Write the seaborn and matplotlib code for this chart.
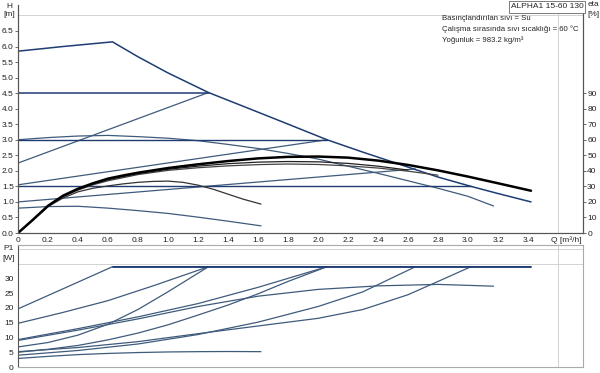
import matplotlib
matplotlib.use("Agg")
import matplotlib.pyplot as plt
import seaborn as sns
import numpy as np
import pandas as pd

# ---------------- data ----------------
# Head curves H [m] vs Q [m3/h]
q_max = [0, 0.3, 0.63, 0.8, 1.0, 1.27, 1.5, 1.75, 2.06, 2.3, 2.6, 2.8, 3.02, 3.2, 3.42]
h_max = [5.85, 6.0, 6.15, 5.67, 5.15, 4.52, 4.08, 3.6, 3.0, 2.6, 2.12, 1.8, 1.5, 1.27, 1.0]

q_sp2 = [0, 0.2, 0.4, 0.6, 0.8, 1.0, 1.2, 1.4, 1.6, 1.8, 2.0, 2.2, 2.4, 2.6, 2.8, 3.0, 3.17]
h_sp2 = [3.0, 3.07, 3.12, 3.14, 3.1, 3.05, 2.97, 2.85, 2.72, 2.56, 2.38, 2.15, 1.92, 1.68, 1.44, 1.18, 0.87]

q_sp1 = [0, 0.2, 0.4, 0.6, 0.8, 1.0, 1.2, 1.4, 1.62]
h_sp1 = [0.8, 0.85, 0.86, 0.8, 0.72, 0.63, 0.51, 0.38, 0.23]

q_cp3 = [0, 1.27]; h_cp3 = [4.5, 4.5]
q_cp2 = [0, 2.06]; h_cp2 = [3.0, 3.0]
q_cp1 = [0, 3.02]; h_cp1 = [1.5, 1.5]

q_pp3 = [0, 1.27]; h_pp3 = [2.25, 4.52]
q_pp2 = [0, 2.06]; h_pp2 = [1.55, 3.0]
q_pp1 = [0, 2.65]; h_pp1 = [1.0, 2.06]

# Efficiency curves eta [%]
q_eta_max = [0, 0.1, 0.2, 0.3, 0.4, 0.5, 0.6, 0.7, 0.8, 1.0, 1.2, 1.4, 1.6, 1.8, 2.0,
             2.2, 2.4, 2.6, 2.8, 3.0, 3.2, 3.42]
eta_max = [0, 8.6, 17.5, 24, 28.5, 32, 35, 37, 38.8, 41.8, 44.2, 46.3, 48, 49, 49.2,
           48.5, 46.6, 43.8, 40.3, 36.3, 32, 27.2]

q_eta_b = [0, 0.1, 0.2, 0.3, 0.4, 0.5, 0.6, 0.8, 1.0, 1.2, 1.4, 1.6, 1.8, 2.0, 2.2, 2.4, 2.6, 2.8]
eta_b = [0, 8.4, 17, 23.3, 27.6, 31, 33.6, 37.6, 40.3, 42, 43.2, 44, 44.4, 44.1, 43.2, 41.8, 39.8, 37.2]

q_eta_c = [0, 0.1, 0.2, 0.3, 0.4, 0.5, 0.6, 0.8, 1.0, 1.2, 1.4, 1.6, 1.8, 2.0, 2.2, 2.4, 2.6]
eta_c = [0, 8.5, 17.3, 23.7, 28, 31.5, 34.3, 38.2, 41, 43, 44.6, 45.6, 46, 45.8, 44.8, 43, 40.5]

q_eta_sp1 = [0, 0.1, 0.2, 0.3, 0.4, 0.5, 0.6, 0.7, 0.8, 0.9, 1.0, 1.1, 1.2, 1.3, 1.4, 1.5, 1.62]
eta_sp1 = [0, 8.4, 17, 22.5, 26.5, 28.8, 30.3, 31.6, 32.6, 33.2, 33.4, 32.6, 30.8, 28.2, 25, 21.8, 18.6]

# Power curves P1 [W]
q_p_max = [0, 0.3, 0.63, 3.42]
p_max = [19.7, 26.5, 34, 34]
q_p_cp3 = [0, 0.3, 0.6, 0.9, 1.27]
p_cp3 = [14.8, 18.5, 22.5, 27.5, 34]
q_p_pp3 = [0, 0.2, 0.4, 0.6, 0.8, 1.0, 1.27]
p_pp3 = [6.8, 8.3, 10.8, 14.5, 19.5, 25.5, 34]
q_p_cp2 = [0, 0.4, 0.8, 1.2, 1.6, 2.06]
p_cp2 = [9.3, 13, 17, 21.5, 27, 34]
q_p_sp2 = [0, 0.4, 0.8, 1.2, 1.6, 2.0, 2.4, 2.8, 3.17]
p_sp2 = [9.0, 12.5, 16.3, 20.5, 24, 26.3, 27.5, 28, 27.4]
q_p_pp2 = [0, 0.2, 0.4, 0.6, 0.8, 1.0, 1.2, 1.4, 1.6, 1.8, 2.06]
p_pp2 = [5.0, 6.0, 7.3, 9.2, 11.5, 14.3, 17.6, 21, 24.8, 29, 34]
q_p_pp1 = [0, 0.4, 0.8, 1.2, 1.6, 2.0, 2.3, 2.65]
p_pp1 = [4.0, 5.6, 7.8, 11.0, 15.2, 20.5, 25.5, 34]
q_p_cp1 = [0, 0.4, 0.8, 1.2, 1.6, 2.0, 2.3, 2.6, 2.8, 3.02]
p_cp1 = [5.2, 6.6, 8.6, 11.3, 13.9, 16.5, 19.5, 24.5, 29, 34]
q_p_sp1 = [0, 0.2, 0.4, 0.6, 0.8, 1.0, 1.2, 1.4, 1.62]
p_sp1 = [2.9, 3.6, 4.2, 4.6, 4.9, 5.1, 5.2, 5.25, 5.2]

h_ticks = [0.0, 0.5, 1.0, 1.5, 2.0, 2.5, 3.0, 3.5, 4.0, 4.5, 5.0, 5.5, 6.0, 6.5]
eta_ticks = [0, 10, 20, 30, 40, 50, 60, 70, 80, 90]
p_ticks = [0, 5, 10, 15, 20, 25, 30]
q_ticks = [0, 0.2, 0.4, 0.6, 0.8, 1.0, 1.2, 1.4, 1.6, 1.8, 2.0, 2.2, 2.4, 2.6, 2.8, 3.0, 3.2, 3.4]

info_lines = ["Basınçlandırılan sıvı = Su",
              "Çalışma sırasında sıvı sıcaklığı = 60 °C",
              "Yoğunluk = 983.2 kg/m³"]
title_box = "ALPHA1 15-60 130"

# ---------------- styling ----------------
sns.set_theme(style="white")
plt.rcParams['font.family'] = ['Liberation Sans', 'DejaVu Sans']
FS = 6
NAVY = '#1f3c73'
SLATE = '#3f5b7c'
GRID = '#d2d2d2'
SPINE = '#555555'

fig = plt.figure(figsize=(6.0, 3.73), dpi=100)
W, Hpx = 600.0, 373.0
ax = fig.add_axes([18 / W, 1 - 233 / Hpx, 565 / W, 228 / Hpx])
axp = fig.add_axes([18 / W, 1 - 367 / Hpx, 565 / W, 122 / Hpx])
ax2 = ax.twinx()

XMAX = 565 / 150.0
HTOP = 228 / 31.08
PTOP = 122 / 2.95

def line(a, x, y, color, lw):
    sns.lineplot(x=x, y=y, ax=a, color=color, lw=lw, sort=False,
                 estimator=None, legend=False)

# head curves
line(ax, q_sp1, h_sp1, SLATE, 0.9)
line(ax, q_sp2, h_sp2, SLATE, 0.9)
line(ax, q_pp1, h_pp1, SLATE, 0.9)
line(ax, q_pp2, h_pp2, SLATE, 0.9)
line(ax, q_pp3, h_pp3, SLATE, 0.9)
line(ax, q_cp1, h_cp1, NAVY, 1.0)
line(ax, q_cp2, h_cp2, NAVY, 1.0)
line(ax, q_cp3, h_cp3, NAVY, 1.1)
line(ax, q_max, h_max, NAVY, 1.1)

# efficiency curves
line(ax2, q_eta_sp1, eta_sp1, '#333333', 0.9)
line(ax2, q_eta_b, eta_b, '#444444', 0.9)
line(ax2, q_eta_c, eta_c, '#222222', 0.9)
line(ax2, q_eta_max, eta_max, '#000000', 1.8)

# power curves
for qq, pp in [(q_p_sp1, p_sp1), (q_p_cp1, p_cp1), (q_p_pp1, p_pp1),
               (q_p_pp2, p_pp2), (q_p_sp2, p_sp2), (q_p_cp2, p_cp2),
               (q_p_pp3, p_pp3), (q_p_cp3, p_cp3), (q_p_max, p_max)]:
    line(axp, qq, pp, SLATE, 0.9)
line(axp, [q_p_max[2], q_p_max[3]], [p_max[2], p_max[3]], NAVY, 1.3)

# ---------------- axes formatting ----------------
grid_x = np.arange(0, 3.61, 0.2)
for a, ylim, gy in [(ax, (0, HTOP), np.arange(0, 7.01, 0.5)),
                    (axp, (0, PTOP), np.arange(0, 40.1, 5))]:
    a.set_xlim(0, XMAX)
    a.set_ylim(*ylim)
    a.set_xticks(grid_x, minor=True)
    a.set_yticks(gy, minor=True)
    a.grid(which='minor', color=GRID, lw=0.7)
    a.set_axisbelow(True)
    a.set_xlabel('')
    a.set_ylabel('')

ax.set_xticks(q_ticks)
ax.set_xticklabels(['0' if v == 0 else f'{v:.1f}' for v in q_ticks], fontsize=FS, color='#222222')
ax.set_yticks(h_ticks)
ax.set_yticklabels([f'{v:.1f}' for v in h_ticks], fontsize=FS, color='#222222')
ax.tick_params(axis='both', which='major', length=2, width=0.6, pad=1, color=SPINE)
ax.tick_params(which='minor', length=0)

ax2.set_ylim(0, HTOP * 20)
ax2.set_yticks(eta_ticks)
ax2.set_yticklabels([str(v) for v in eta_ticks], fontsize=FS, color='#222222')
ax2.tick_params(axis='y', length=2, width=0.6, pad=1, color=SPINE)
ax2.set_ylabel('')
ax2.grid(False)

axp.set_xticks(q_ticks)
axp.set_xticklabels([])
axp.tick_params(axis='x', length=0)
axp.set_yticks(p_ticks)
axp.set_yticklabels([str(v) for v in p_ticks], fontsize=FS, color='#222222')
axp.tick_params(axis='y', length=2, width=0.6, pad=1, color=SPINE)
axp.tick_params(which='minor', length=0)

for a in (ax, ax2):
    a.spines['top'].set_visible(False)
    for s in ('left', 'right', 'bottom'):
        a.spines[s].set_color(SPINE)
        a.spines[s].set_linewidth(0.8)
for s in ('top', 'right', 'bottom'):
    axp.spines[s].set_color('#aaaaaa')
    axp.spines[s].set_linewidth(0.8)
axp.spines['left'].set_color(SPINE)
axp.spines['left'].set_linewidth(0.8)

# axis labels as text
fig.text(9 / W, 1 - 6 / Hpx, 'H', fontsize=FS, ha='center', va='center')
fig.text(9 / W, 1 - 15 / Hpx, '[m]', fontsize=FS, ha='center', va='center')
fig.text(593 / W, 1 - 5 / Hpx, 'eta', fontsize=FS, ha='center', va='center')
fig.text(593 / W, 1 - 14 / Hpx, '[%]', fontsize=FS, ha='center', va='center')
fig.text(9 / W, 1 - 249 / Hpx, 'P1', fontsize=FS, ha='center', va='center')
fig.text(9 / W, 1 - 258 / Hpx, '[W]', fontsize=FS, ha='center', va='center')
fig.text(566 / W, 1 - 240 / Hpx, 'Q [m³/h]', fontsize=FS, ha='center', va='center')

fig.text(547 / W, 1 - 7 / Hpx, title_box, fontsize=FS, ha='center', va='center',
         bbox=dict(boxstyle='square,pad=0.25', fc='white', ec='#666666', lw=0.6))
for i, t in enumerate(info_lines):
    fig.text(442 / W, 1 - (19 + 10.5 * i) / Hpx, t, fontsize=5.6, ha='left', va='center')

fig.savefig('out.png', dpi=100)
